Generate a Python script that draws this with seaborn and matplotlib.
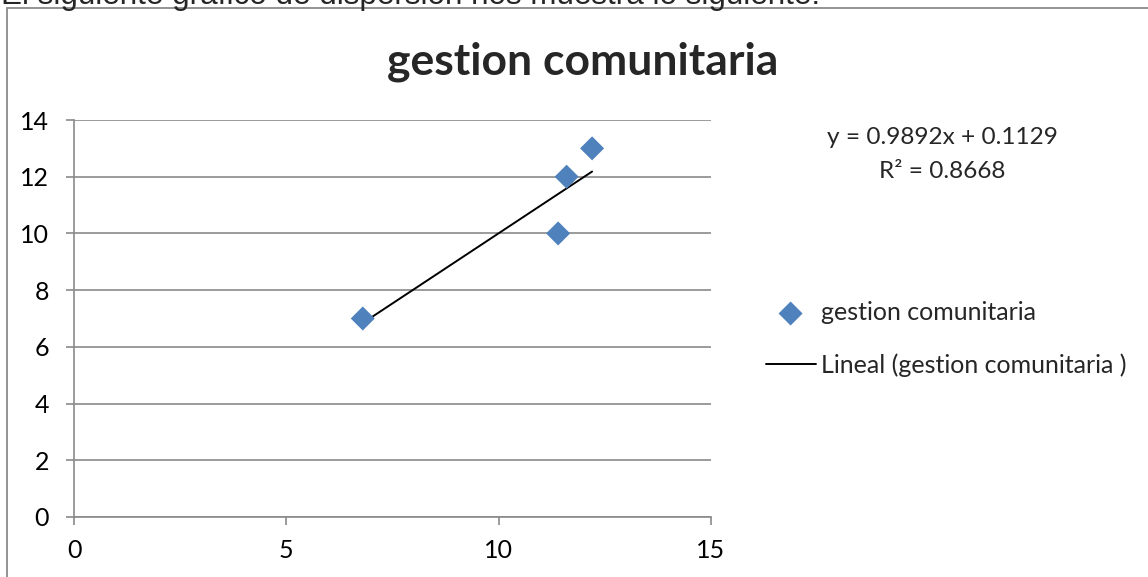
import matplotlib
matplotlib.use('Agg')
import matplotlib.pyplot as plt
import matplotlib.patches as patches
import seaborn as sns
import pandas as pd

# Datos
x_vals = [6.8, 11.4, 11.6, 12.2]
y_vals = [7, 10, 12, 13]
serie = 'gestion comunitaria'
serie_tendencia = 'Lineal (gestion comunitaria )'
x_ticks = [0, 5, 10, 15]
y_ticks = [0, 2, 4, 6, 8, 10, 12, 14]
ecuacion = 'y = 0.9892x + 0.1129'
r2 = 'R² = 0.8668'

df = pd.DataFrame({'x': x_vals, 'y': y_vals})

sns.set_theme(style='white')
plt.rcParams['font.family'] = ['Lato', 'DejaVu Sans']

gris = '#8a8a8a'
azul = '#4f81bd'

fig = plt.figure(figsize=(11.48, 5.77), dpi=100)
ax = fig.add_axes([74 / 1148, 1 - 517 / 577, 637 / 1148, 397 / 577])

sns.scatterplot(data=df, x='x', y='y', marker='D', s=150, color=azul,
                edgecolor='none', label=serie, ax=ax, zorder=3)
sns.regplot(data=df, x='x', y='y', scatter=False, ci=None, color='black',
            line_kws={'linewidth': 1.4}, ax=ax)
ax.lines[-1].set_label(serie_tendencia)

ax.set_xlim(0, 15)
ax.set_ylim(0, 14)
ax.set_xticks(x_ticks)
ax.set_yticks(y_ticks)
ax.set_xlabel('')
ax.set_ylabel('')
ax.yaxis.grid(True, color=gris, linewidth=1.2)
ax.xaxis.grid(False)
ax.set_axisbelow(True)
for lado in ['top', 'right']:
    ax.spines[lado].set_visible(False)
for lado in ['left', 'bottom']:
    ax.spines[lado].set_color(gris)
    ax.spines[lado].set_linewidth(1.2)
ax.tick_params(axis='both', which='both', direction='out', length=6, width=1.2,
               color=gris, labelsize=18, labelcolor='black', left=True, bottom=True)
ax.tick_params(axis='x', pad=10)
ax.tick_params(axis='y', pad=12)

handles, labels = ax.get_legend_handles_labels()
ax.legend(handles, labels, loc='center left', bbox_to_anchor=(0.656, 0.4125),
          bbox_transform=fig.transFigure, frameon=False, fontsize=18,
          handlelength=2.0, handletextpad=0.22, labelspacing=1.17, borderpad=0)

fig.text(583 / 1148, 1 - 62 / 577, 'gestion comunitaria', ha='center', va='center',
         fontsize=32, fontweight='bold')
fig.text(942 / 1148, 1 - 137 / 577, ecuacion, ha='center', va='center', fontsize=17.6)
fig.text(942 / 1148, 1 - 172 / 577, r2, ha='center', va='center', fontsize=17.6)

# texto del documento recortado arriba
fig.text(0.001, 1 - 4 / 577, 'El siguiente gráfico de dispersión nos muestra lo siguiente:',
         ha='left', va='baseline', fontsize=22.6, family=['Liberation Sans', 'DejaVu Sans'])

marco = patches.Rectangle((7 / 1148, -0.05), 1.1, 1 - 8 / 577 + 0.05,
                          transform=fig.transFigure, fill=False, edgecolor=gris,
                          linewidth=1.3, clip_on=False)
fig.patches.append(marco)

fig.savefig('out.png', dpi=100)
